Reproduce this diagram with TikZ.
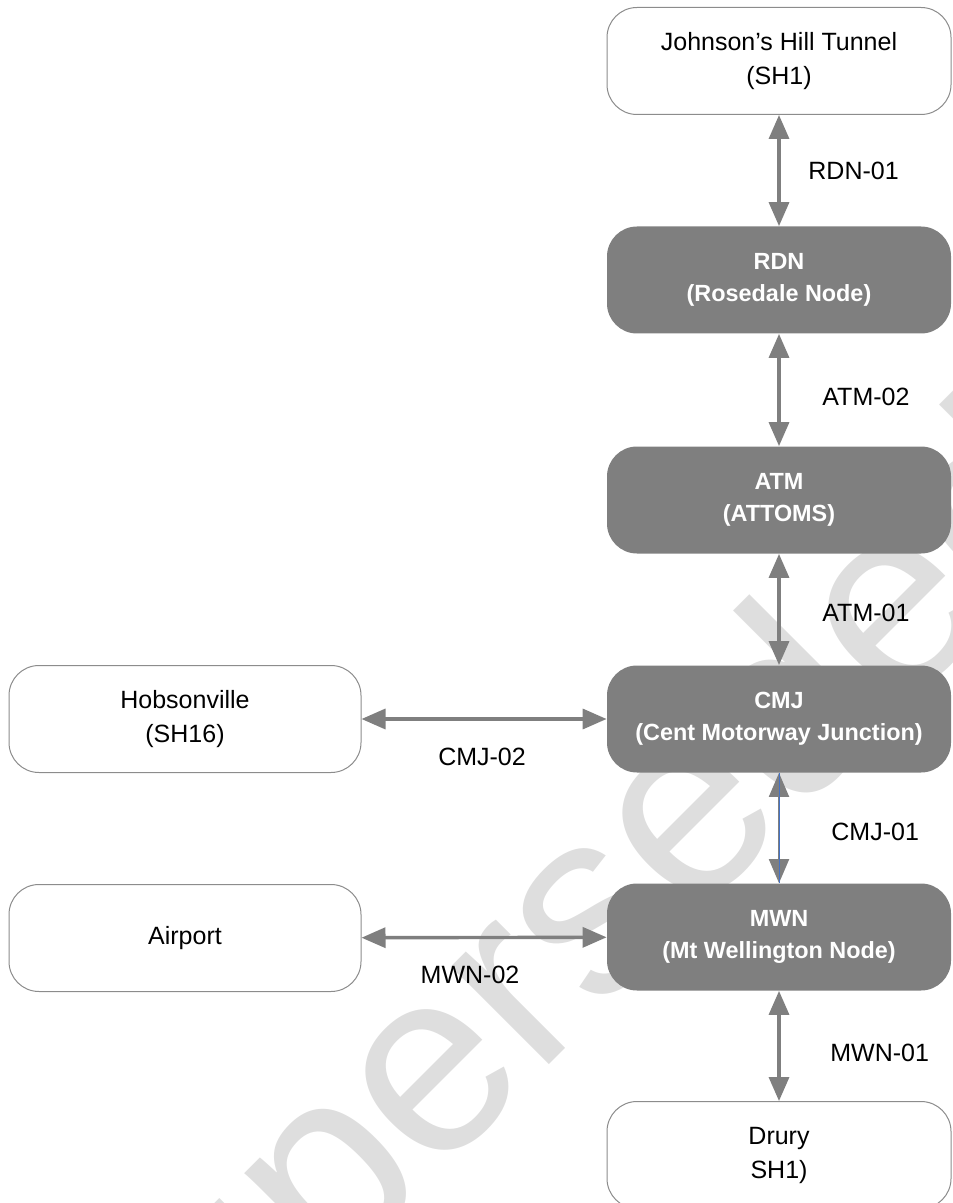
\documentclass[tikz,border=0pt]{standalone}
\usepackage{fontspec}
\setmainfont{Liberation Sans}
\usetikzlibrary{arrows.meta}
\definecolor{hubgrey}{HTML}{7F7F7F}
\definecolor{rimgrey}{HTML}{8C8C8C}
\definecolor{markgrey}{HTML}{DEDEDE}
\definecolor{thinblue}{HTML}{4472C4}
\tikzset{
  site/.style={draw=rimgrey, line width=0.5pt, fill=white, rounded corners=15pt,
    minimum width=172pt, minimum height=53.5pt, inner sep=0pt, align=center,
    font=\fontsize{12.5}{17}\selectfont},
  hub/.style={fill=hubgrey, text=white, rounded corners=15pt,
    minimum width=172pt, minimum height=53.5pt, inner sep=0pt, align=center,
    font=\fontsize{11.7}{16}\selectfont\bfseries},
  link/.style={draw=hubgrey, line width=1.7pt,
    {Triangle[length=12pt,width=10pt]}-{Triangle[length=12pt,width=10pt]}},
  tag/.style={inner sep=0pt, font=\fontsize{12.5}{15}\selectfont},
}
\begin{document}
\begin{tikzpicture}[x=0.5pt,y=-0.5pt]
      \useasboundingbox (0,0) rectangle (952,1203);
      \clip (0,0) rectangle (952,1203);
      % watermark
      \node[anchor=base, rotate=45, text=markgrey, inner sep=0pt,
        font=\fontsize{131}{131}\selectfont] (mark) at (603,1010) {Superseded};
      % sites and hubs
      \node[site] (jht) at (779,61) {Johnson’s Hill Tunnel\\(SH1)};
      \node[hub] (rdn) at (779,280) {RDN\\(Rosedale Node)};
      \node[hub] (atm) at (779,500) {ATM\\(ATTOMS)};
      \node[hub] (cmj) at (779,719) {CMJ\\(Cent Motorway Junction)};
      \node[hub] (mwn) at (779,937) {MWN\\(Mt Wellington Node)};
      \node[site] (dru) at (779,1155) {Drury\\SH1)};
      \node[site, minimum width=176pt] (hob) at (185,719) {Hobsonville\\(SH16)};
      \node[site, minimum width=176pt] (air) at (185,938) {Airport};
      % link names
      \node[tag, anchor=west] (l1) at (808,171) {RDN-01};
      \node[tag, anchor=west] (l2) at (822,397) {ATM-02};
      \node[tag, anchor=west] (l3) at (822,613) {ATM-01};
      \node[tag, anchor=west] (l4) at (831,832) {CMJ-01};
      \node[tag, anchor=west] (l5) at (830,1053) {MWN-01};
      \node[tag] (l6) at (482,757) {CMJ-02};
      \node[tag] (l7) at (470,975) {MWN-02};
      \begin{scope}[link]
        \draw (jht) to (rdn);
        \draw (rdn) to (atm);
        \draw (atm) to (cmj);
        \draw[line width=1pt] (cmj) to (mwn);
        \draw (mwn) to (dru);
        \draw (hob) to (cmj);
        \draw (air) to (mwn);
      \end{scope}
      \draw[thinblue, line width=0.5pt] (cmj) to (mwn);
    \end{tikzpicture}
\end{document}
